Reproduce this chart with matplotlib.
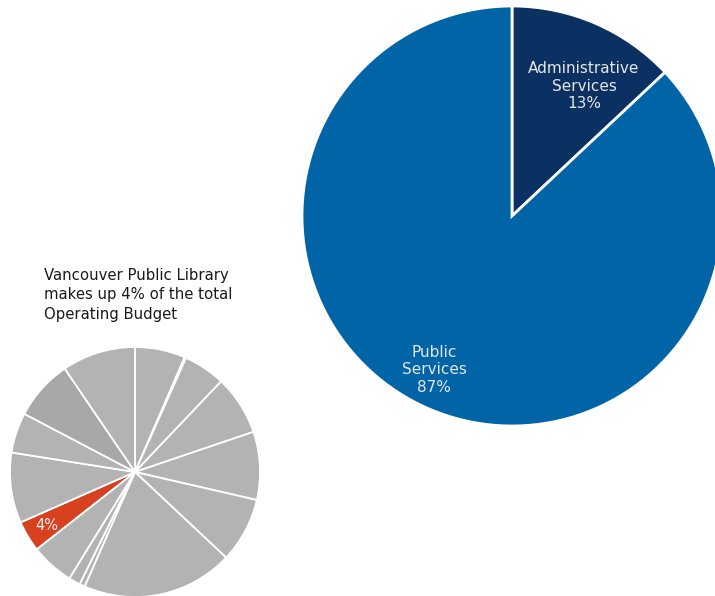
import matplotlib
matplotlib.use("Agg")
import matplotlib.pyplot as plt

plt.rcParams['font.family'] = ['DejaVu Sans']

# Library budget split
lib_labels = ["Administrative\nServices\n13%", "Public\nServices\n87%"]
lib_values = [13, 87]
lib_colors = ["#0b3162", "#0064a6"]

# City operating budget by department (share, %), library highlighted
dept_values = [6.5, 0.2, 5.4, 7.7, 8.8, 8.4, 19.6, 0.7, 1.5, 5.6, 4.0, 9.1, 5.2, 7.8, 9.5]
highlight_index = 10
highlight_label = "4%"
title_text = "Vancouver Public Library\nmakes up 4% of the total\nOperating Budget"

W, H = 715, 596
fig = plt.figure(figsize=(W / 100, H / 100), dpi=100)
fig.patch.set_facecolor("white")


def px_axes(cx, cy, r):
    return fig.add_axes([(cx - r) / W, (H - cy - r) / H, 2 * r / W, 2 * r / H])


# Large pie
ax1 = px_axes(512, 216, 210)
ax1.pie(lib_values, colors=lib_colors, startangle=90, counterclock=False,
        radius=1, wedgeprops=dict(edgecolor="white", linewidth=2))
ax1.set_xlim(-1, 1)
ax1.set_ylim(-1, 1)
ax1.axis("off")
ax1.text(0.343, 0.619, lib_labels[0], ha="center", va="center", color="#e6e6e6",
         fontsize=11, linespacing=1.2)
ax1.text(-0.371, -0.733, lib_labels[1], ha="center", va="center", color="#e6e6e6",
         fontsize=11, linespacing=1.2)

# Small pie
ax2 = px_axes(135, 472, 125)
colors = ["#b3b3b3"] * len(dept_values)
colors[highlight_index] = "#d84120"
colors[13] = "#a8a8a8"
ax2.pie(dept_values, colors=colors, startangle=90, counterclock=False,
        radius=1, wedgeprops=dict(edgecolor="white", linewidth=1.3))
ax2.set_xlim(-1, 1)
ax2.set_ylim(-1, 1)
ax2.axis("off")
ax2.text(-0.704, -0.424, highlight_label, ha="center", va="center",
         color="#f2f2f2", fontsize=10.5)

fig.text(44 / W, 1 - 268 / H, title_text, ha="left", va="top", fontsize=10.75,
         color="#1a1a1a", linespacing=1.36)

fig.savefig("out.png", dpi=100)
